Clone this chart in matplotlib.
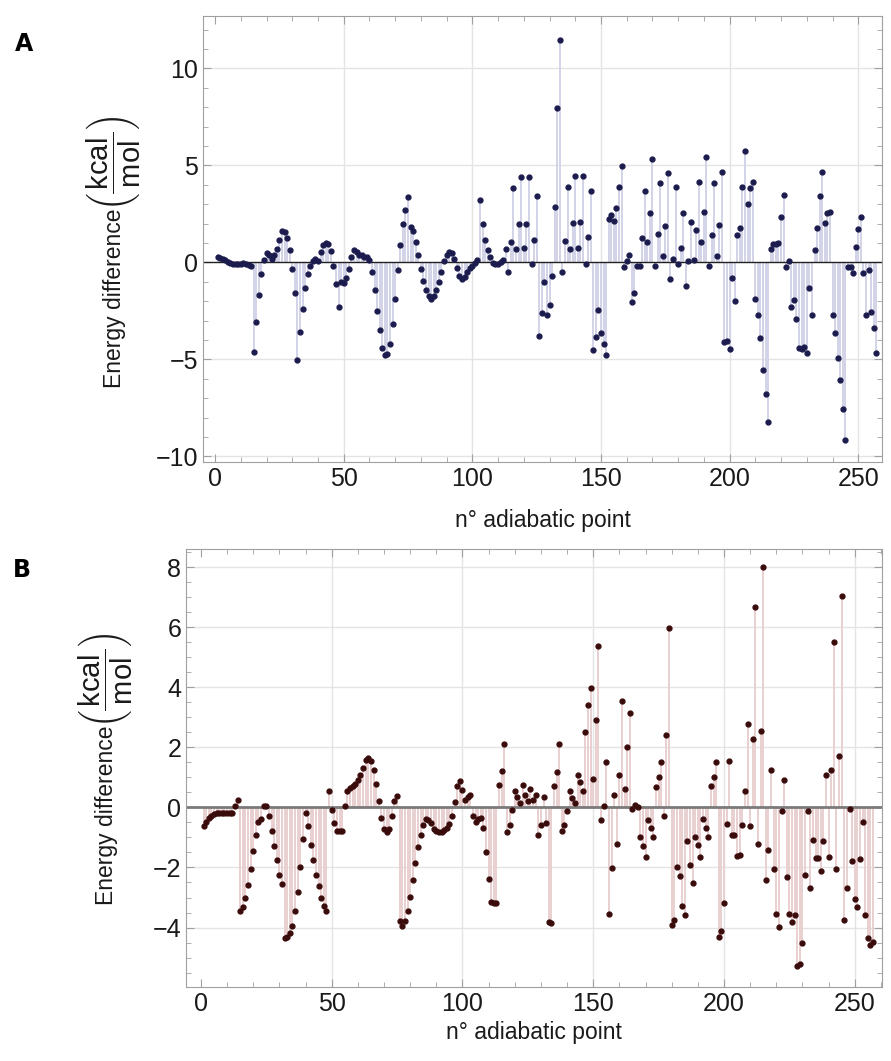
"""
energy difference along the adiabatic points, two panels (A and B)
"""
import numpy as np
import matplotlib
matplotlib.use("Agg")
import matplotlib.pyplot as plt
from matplotlib.ticker import MultipleLocator

plt.rcParams["font.family"] = ["Liberation Sans", "DejaVu Sans"]
plt.rcParams["mathtext.fontset"] = "custom"
plt.rcParams["mathtext.rm"] = "Liberation Sans"
plt.rcParams["mathtext.it"] = "Liberation Sans:italic"

# energy differences (kcal/mol) per adiabatic point
energy_a = [
    0.3, 0.24, 0.17, 0.1, 0.04, -0.02, -0.06, -0.08, -0.08, -0.07, -0.02, -0.08, -0.15, -0.18,
    -4.6, -3.05, -1.7, -0.62, 0.12, 0.47, 0.38, 0.15,
    0.4, 0.7, 1.15, 1.64, 1.55, 1.25, 0.64, -0.36, -1.6, -5.05,
    -3.6, -2.38, -1.3, -0.62, -0.17, 0.09, 0.15, 0.05, 0.52, 0.9, 1.0, 0.97, 0.59, -0.17, -1.12, -2.3,
    -1.0, -1.08, -0.83, -0.36, 0.26, 0.64, 0.55, 0.38, 0.38, 0.3, 0.3, 0.12, -0.48, -1.4, -2.5, -3.5,
    -4.4, -4.8, -4.7, -4.2, -3.2, -1.9, -0.4, 0.88, 1.98, 2.7, 3.36,
    1.8, 1.6, 1.07, 0.38, -0.36, -0.95, -1.4, -1.74, -1.9, -1.74, -1.4, -1.0, -0.48, 0.09,
    0.38, 0.53, 0.47, 0.15, -0.31, -0.69, -0.86, -0.74, -0.52, -0.31, -0.17, -0.05, 0.12, 3.2,
    2.0, 1.15, 0.64, 0.26, -0.05, -0.1, -0.1, 0.0, 0.12, 0.67, -0.48, 1.03, 3.83, 0.67, 2.0,
    4.4, 0.76, 2.0, 4.4, -0.1, 1.15, 3.4, -3.8,
    -2.6, -1.0, -2.7, -2.2, -0.7, 2.88, 7.97, 11.47,
    -0.48, 1.12, 3.88, 0.67, 2.05, 4.43, 0.76, 2.1, 4.43, -0.09, 1.33, 3.69,
    -4.5, -3.84, -2.47, -3.64, -4.19, -4.76,
    2.24, 2.45, 2.16, 2.83, 3.91, 4.95, -0.22, 0.09, 0.38, -2.03, -1.57, -0.19, -0.19,
    1.24, 3.69, 1.07, 2.57, 5.33, -0.19, 1.45, 4.09, 0.33, 1.9, 4.6,
    -0.88, 0.15, 3.91, -0.1, 0.76, 2.57, -1.2, 0.09, 2.1, 0.12, 1.67, 4.14, 1.07, 2.62, 5.41,
    -0.19, 1.41, 4.09, 0.34, 1.93, 4.64, -4.1, -4.05, -4.45, -0.83, -1.98,
    1.41, 1.76, 3.91, 5.76, 3.0, 3.83, 4.14, -1.9, -2.72, -3.88, -5.53, -6.81, -8.24,
    0.67, 0.93, 0.95, 0.98, 2.33, 3.48, -0.22, 0.09,
    -2.29, -1.95, -2.93, -4.41, -4.45, -4.36, -4.67, -1.34, -2.72,
    0.64, 1.76, 3.4, 4.64, 2.02, 2.53, 2.62, -2.72, -3.64, -4.91, -6.09, -7.55, -9.16,
    -0.26, -0.26, -0.57, 0.81, 1.71, 2.36, -0.57, -2.72, -0.4, -2.55, -3.36, -4.66,
]

energy_b = [
    -0.61, -0.47, -0.36, -0.27, -0.21, -0.18, -0.18, -0.18, -0.18, -0.18, -0.18, -0.18, 0.06, 0.23,
    -3.44, -3.33, -3.02, -2.58, -2.04, -1.44, -0.91, -0.47, -0.4, 0.06, 0.03, -0.3, -0.77,
    -1.28, -1.76, -2.24, -2.54, -4.36, -4.33, -4.19, -3.94, -3.44, -2.8, -1.97, -1.04, -0.19,
    -0.63, -1.24, -1.74, -2.24, -2.63, -3.0, -3.27, -3.44,
    0.53, -0.08, -0.52, -0.8, -0.78, -0.78, 0.03, 0.53, 0.64, 0.7, 0.78, 0.9,
    1.09, 1.31, 1.59, 1.64, 1.53, 1.26, 0.78, 0.2, -0.36, -0.71, -0.82, -0.71, -0.3, 0.2, 0.39,
    -3.78, -3.96, -3.78,
    -3.44, -2.98, -2.42, -1.86, -1.32, -0.91, -0.58, -0.39, -0.42, -0.52, -0.71, -0.8, -0.82,
    -0.82, -0.76, -0.69, -0.54, -0.27, 0.18, 0.7, 0.87, 0.59, 0.26, 0.34, 0.4, -0.3, -0.47,
    -0.38, -0.36, -0.67, -1.47, -2.38,
    -3.15, -3.18, -3.18, 0.76, 1.22, 2.11, -0.82, -0.58, -0.08, 0.56, 0.33, 0.14, 0.76, 0.4,
    0.2, 0.62, 0.26, 0.42, -0.91,
    -0.6, 0.33, -0.52, -3.82, -3.86, 0.7, 1.18, 2.11, -0.8, -0.6, -0.13, 0.56, 0.31, 0.14,
    1.09, 0.83, 0.56, 2.5, 3.4, 3.98, 0.96, 2.92, 5.37, -0.42, 0.03, 1.51, -3.56, -2.02, 0.4,
    -1.21, 1.09, 3.53, 0.62, 2.0, 3.13, -0.04, 0.09, 0.0, -0.97, -1.27, -1.66, -0.41, -0.69,
    -0.99, 0.68, 1.0, 1.5, -0.27, 2.4, 5.98, -3.91, -3.74, -2.0, -2.28, -3.28, -3.58, -1.11,
    -1.91, -2.53, -0.97, -1.24, -1.66, -0.38, -0.67, -0.99,
    0.7, 1.0, 1.5, -4.32, -4.13, -3.19, -0.54, 1.53, -0.93, -0.93, -1.63, -1.58, -0.6, 0.53,
    2.79, -0.63, 2.28, 6.68, -1.21, 2.56, 8.0, -2.43, -1.43, 1.26, -2.04, -3.56, -3.97, -0.13,
    0.92, -2.32, -3.56, -3.82, -3.58, -5.27, -5.22, -4.5, -2.24, -0.13, -2.67, -1.08, -1.69,
    -1.69, -2.11, -1.11, 1.07, -1.66, 1.26, 5.51, -2.06, 1.7, 7.03, -3.74, -2.69, -0.04, -1.8,
    -3.06, -3.33, -1.72, -0.49, -3.58, -4.36, -4.58, -4.47,
]

points_a = np.arange(1, len(energy_a) + 1)
points_b = np.arange(1, len(energy_b) + 1)

label_text = "Energy difference"
label_unit = r"$\left(\dfrac{\mathrm{\,kcal\,}}{\mathrm{mol}}\right)$"
text_col = "#1a1a1a"
frame_col = "#a0a0a0"
grid_col = "#e4e4e4"
H = 1061.0
W = 891.0


def draw_panel(ax, x, y, dot_col, fill_col, zero_col, zero_lw,
               xlim, ylim, ymajor, yminor, ygrid, xpad):
    for g in [50, 100, 150, 200, 250]:
        ax.axvline(g, color=grid_col, lw=1.0, zorder=0)
    for g in ygrid:
        ax.axhline(g, color=grid_col, lw=1.0, zorder=0)
    # filling to the axis, one stem per point
    ax.vlines(x, 0, y, color=fill_col, lw=1.4, zorder=1)
    ax.axhline(0, color=zero_col, lw=zero_lw, zorder=2)
    ax.plot(x, y, "o", ms=3.5, color=dot_col, mec=dot_col, zorder=3)

    ax.set_xlim(*xlim)
    ax.set_ylim(*ylim)
    ax.xaxis.set_major_locator(MultipleLocator(50))
    ax.xaxis.set_minor_locator(MultipleLocator(10))
    ax.yaxis.set_major_locator(MultipleLocator(ymajor))
    ax.yaxis.set_minor_locator(MultipleLocator(yminor))
    ax.tick_params(which="both", direction="in", top=True, right=True,
                   color=frame_col, labelsize=18, labelcolor=text_col)
    ax.tick_params(which="major", length=6, width=0.8)
    ax.tick_params(which="minor", length=3.5, width=0.6)
    for s in ax.spines.values():
        s.set_color(frame_col)
        s.set_linewidth(0.8)
    ax.set_xlabel("n° adiabatic point", fontsize=16.5, color=text_col, labelpad=xpad)


def energy_label(xpix, ypix_start):
    # rotated label: plain words first, then the unit fraction above them
    t = fig.text(xpix / W, 1 - ypix_start / H, label_text, rotation=90,
                 fontsize=16.5, color=text_col, ha="center", va="bottom")
    fig.canvas.draw()
    bb = t.get_window_extent()
    fig.text(xpix / W, bb.y1 / H - 0.002, label_unit, rotation=90,
             fontsize=21, color=text_col, ha="center", va="bottom")


fig = plt.figure(figsize=(8.91, 10.61), dpi=100)
ax_a = fig.add_axes([0.2278, 0.5648, 0.762, 0.42])
ax_b = fig.add_axes([0.2088, 0.07, 0.7811, 0.4125])

draw_panel(ax_a, points_a, energy_a, "#1b1b4d", "#d3d3e8", "#202020", 1.0,
           (-4.7, 259.2), (-10.28, 12.7), 5, 1, [-10, -5, 5, 10], 13)
draw_panel(ax_b, points_b, energy_b, "#3a0b0b", "#ead0d0", "#7a7a7a", 2.0,
           (-5.7, 260.4), (-5.97, 8.6), 2, 0.5, [-4, -2, 2, 4, 6, 8], 4)

energy_label(114, 388)
energy_label(106, 905)

fig.text(0.027, 1 - 44 / H, "A", fontsize=17, fontweight="bold",
         family="DejaVu Sans", ha="center", va="center")
fig.text(0.025, 1 - 570 / H, "B", fontsize=17, fontweight="bold",
         family="DejaVu Sans", ha="center", va="center")

fig.savefig("out.png", dpi=100)
